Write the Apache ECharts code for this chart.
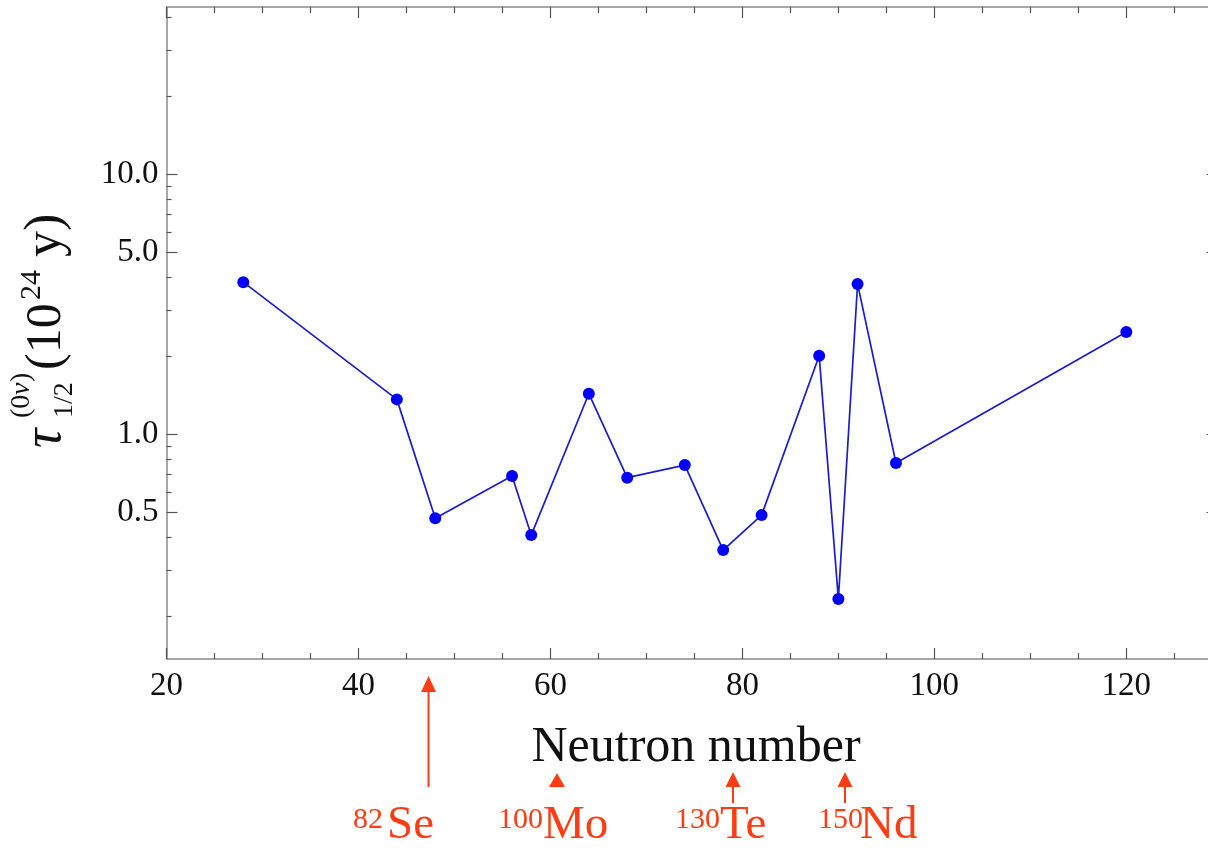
<!DOCTYPE html>
<html><head><meta charset="utf-8">
<script src="https://cdn.jsdelivr.net/npm/echarts@6/dist/echarts.min.js"></script>
<style>html,body{margin:0;padding:0;background:#fff}#c{width:1208px;height:848px}</style>
</head><body><div id="c"></div>
<script>
// ---- data ----
const neutronNumbers = [28, 44, 48, 56, 58, 64, 68, 74, 78, 82, 88, 90, 92, 96, 120];
const halfLives = [3.84, 1.36, 0.475, 0.69, 0.409, 1.43, 0.68, 0.76, 0.358, 0.488, 2.0, 0.232, 3.78, 0.774, 2.47];
const xMajorTicks = [20, 40, 60, 80, 100, 120];
const xMinorTicks = [25, 30, 35, 45, 50, 55, 65, 70, 75, 85, 90, 95, 105, 110, 115, 125];
const yMajorTicks = [0.5, 1, 5, 10];
const yTickLabels = ['0.5', '1.0', '5.0', '10.0'];
const yMinorTicks = [0.2, 0.3, 0.4, 0.6, 0.7, 0.8, 0.9, 2, 3, 4, 6, 7, 8, 9, 20, 30, 40];
const isotopeMasses = ['82', '100', '130', '150'];
const isotopeSymbols = ['Se', 'Mo', 'Te', 'Nd'];

const L = Math.log10;
const X_MIN = 20, X_MAX = 129.5, Y_MIN = L(0.1365), Y_MAX = L(43.9);
const SERIF = '"Liberation Serif", "DejaVu Serif", serif';
const RED = '#ff3c14';
const AX = '#8a8a8a', TK = '#555';

function xAxis(pos, ticks, len, showLine, showLabel) {
  return {
    type: 'value', min: X_MIN, max: X_MAX, position: pos,
    axisLine: { show: showLine, onZero: false, lineStyle: { color: AX, width: 1.5 } },
    axisTick: { show: true, inside: true, length: len, customValues: ticks, lineStyle: { color: TK, width: 1.2 } },
    axisLabel: showLabel ? { show: true, customValues: ticks, fontFamily: SERIF, fontSize: 33, color: '#111', margin: 11 } : { show: false },
    splitLine: { show: false }
  };
}
function yAxis(pos, ticks, len, showLine, showLabel) {
  const lt = ticks.map(L);
  return {
    type: 'value', min: Y_MIN, max: Y_MAX, position: pos,
    axisLine: { show: showLine, onZero: false, lineStyle: { color: AX, width: 1.5 } },
    axisTick: { show: true, inside: true, length: len, customValues: lt, lineStyle: { color: TK, width: 1.2 } },
    axisLabel: showLabel ? {
      show: true, customValues: lt, fontFamily: SERIF, fontSize: 33, color: '#111', margin: 8,
      padding: [7, 0, 0, 0],
      formatter: v => { const i = yMajorTicks.findIndex(t => Math.abs(L(t) - v) < 1e-6); return i >= 0 ? yTickLabels[i] : ''; }
    } : { show: false },
    splitLine: { show: false }
  };
}

const chart = echarts.init(document.getElementById('c'), null, { renderer: 'canvas' });

// y-axis title pieces: [text, along-offset, perpendicular baseline offset, fontSize, italic]
const yTitleParts = [
  ['τ', 0, 0, 54, true],
  ['(0', 30, -33, 28, false],
  ['ν', 53, -33, 28, true],
  [')', 66, -33, 28, false],
  ['1/2', 30, 10, 28, false],
  ['(10', 78, 0, 50, false],
  ['24', 148, -22, 30, false],
  [' y)', 178, 0, 52, false]
];
const yTitle = {
  type: 'group', x: 64, y: 448, rotation: Math.PI / 2,
  children: yTitleParts.map(p => ({
    type: 'text', x: p[1], y: p[2] - 0.3375 * p[3],
    style: {
      text: p[0], fill: '#111', font: (p[4] ? 'italic ' : '') + p[3] + 'px ' + SERIF,
      textAlign: 'left', align: 'left', textVerticalAlign: 'middle', verticalAlign: 'middle'
    }
  }))
};

// isotope annotations (below the axis, decorative)
const annX = [353, 498, 675, 818];
const annSymX = [387, 543, 720, 860];
const annotations = [];
isotopeMasses.forEach((m, i) => {
  annotations.push({ type: 'text', x: annX[i], y: 830 - 0.3375 * 30,
    style: { text: m, fill: RED, font: '30px ' + SERIF, textAlign: 'left', align: 'left', textVerticalAlign: 'middle', verticalAlign: 'middle' } });
  annotations.push({ type: 'text', x: annSymX[i], y: 842 - 0.3375 * 47,
    style: { text: isotopeSymbols[i], fill: RED, font: '47px ' + SERIF, textAlign: 'left', align: 'left', textVerticalAlign: 'middle', verticalAlign: 'middle' } });
});
const arrowSpecs = [ // x, head tip y, head base y, shaft end y, half-width
  [428.5, 676, 692, 787, 7.5],
  [557, 773, 787, 787, 8],
  [733, 772, 787, 803, 7.5],
  [845, 772, 787, 803, 7.5]
];
arrowSpecs.forEach(a => {
  if (a[3] > a[2]) annotations.push({ type: 'line', shape: { x1: a[0], y1: a[2], x2: a[0], y2: a[3] }, style: { stroke: RED, lineWidth: 2 } });
  annotations.push({ type: 'polygon', shape: { points: [[a[0], a[1]], [a[0] - a[4], a[2]], [a[0] + a[4], a[2]]] }, style: { fill: RED } });
});

chart.setOption({
  animation: false,
  backgroundColor: '#fff',
  grid: { left: 166.5, width: 1051, top: 7, bottom: 189, containLabel: false, outerBoundsMode: 'none' },
  xAxis: [
    xAxis('bottom', xMajorTicks, 11, true, true),
    xAxis('bottom', xMinorTicks, 6, false, false),
    xAxis('top', xMajorTicks, 11, true, false),
    xAxis('top', xMinorTicks, 6, false, false)
  ],
  yAxis: [
    yAxis('left', yMajorTicks, 11, true, true),
    yAxis('left', yMinorTicks, 5, false, false),
    yAxis('right', yMajorTicks, 11, true, false),
    yAxis('right', yMinorTicks, 5, false, false)
  ],
  series: [{
    type: 'line', xAxisIndex: 0, yAxisIndex: 0,
    data: neutronNumbers.map((n, i) => [n, L(halfLives[i])]),
    symbol: 'circle', symbolSize: 12, showSymbol: true,
    itemStyle: { color: '#0000ff' },
    lineStyle: { color: '#1c1cd0', width: 1.7 },
    z: 5
  }],
  graphic: [
    { type: 'text', x: 696, y: 765 - 0.3375 * 50,
      style: { text: 'Neutron number', fill: '#111', font: '50px ' + SERIF, textAlign: 'center', align: 'center', textVerticalAlign: 'middle', verticalAlign: 'middle' } },
    yTitle
  ].concat(annotations)
});
</script></body></html>
